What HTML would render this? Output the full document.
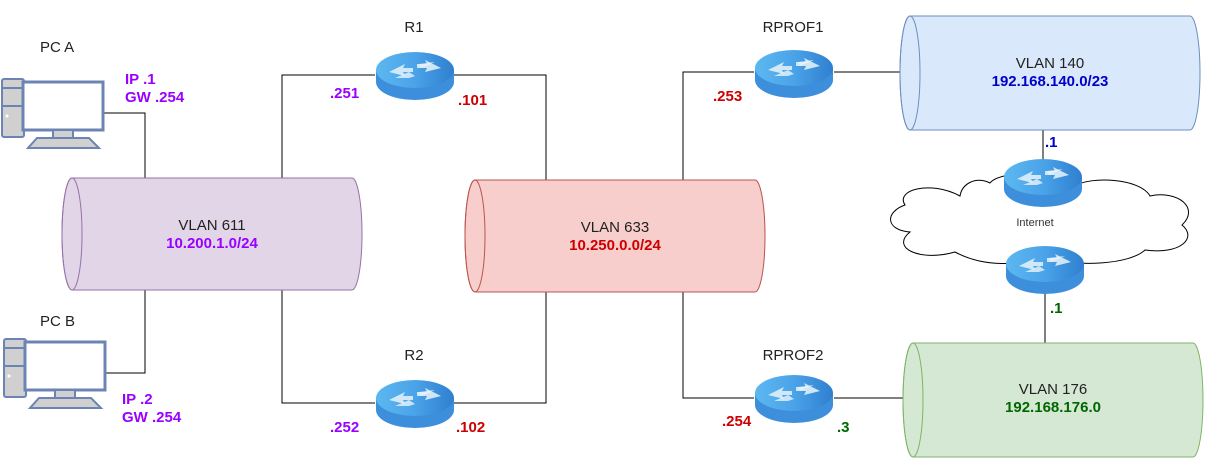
<!DOCTYPE html>
<html><head><meta charset="utf-8"><style>
body{margin:0;background:#fff}
svg{display:block}
text{font-family:"Liberation Sans",Arial,sans-serif}
.l{font-size:15px;fill:#222}
.b{font-size:15px;font-weight:bold}
</style></head><body>
<svg width="1217" height="467" viewBox="0 0 1217 467" xmlns="http://www.w3.org/2000/svg">
<defs>
<linearGradient id="rg" x1="0" x2="1">
<stop offset="0" stop-color="#5cb8f0"/><stop offset="0.5" stop-color="#4aa3e8"/><stop offset="1" stop-color="#2f7fcf"/>
</linearGradient>
<g id="router">
<path d="M1 20 L1 32 A39 18 0 0 0 79 32 L79 20 Z" fill="#3d8fdc"/>
<ellipse cx="40" cy="20" rx="39" ry="18" fill="url(#rg)"/>
<path d="M14 22 L30 14 L28 18 L38 18 L38 22 L28 22 L30 26 Z M66 18 L50 10 L52 14 L42 14 L42 18 L52 18 L50 22 Z" fill="#dfeefa" opacity="0.9"/>
<path d="M20 28 L34 22 L40 26 L34 28 Z M60 12 L46 18 L44 14 Z" fill="#e8f4fd" opacity="0.8"/>
</g>
<g id="pc">
<rect x="1" y="1" width="22" height="58" rx="2" fill="#d0d0d0" stroke="#6c84b4" stroke-width="2"/>
<line x1="1" y1="10" x2="23" y2="10" stroke="#6c84b4" stroke-width="2"/>
<line x1="1" y1="28" x2="23" y2="28" stroke="#6c84b4" stroke-width="2"/>
<circle cx="6" cy="38" r="1.5" fill="#fff"/>
<rect x="22" y="4" width="80" height="48" fill="#fff" stroke="#6c84b4" stroke-width="3"/>
<rect x="52" y="52" width="20" height="8" fill="#d0d0d0" stroke="#6c84b4" stroke-width="2"/>
<path d="M36 60 L88 60 L98 70 L27 70 Z" fill="#d0d0d0" stroke="#6c84b4" stroke-width="2"/>
</g>
</defs>

<g stroke="#000" stroke-width="1" fill="none">
<polyline points="101,113 145,113 145,178"/>
<polyline points="105,373 145,373 145,290"/>
<polyline points="282,178 282,75 375,75"/>
<polyline points="453,75 546,75 546,180"/>
<polyline points="282,290 282,403 375,403"/>
<polyline points="453,403 546,403 546,292"/>
<polyline points="683,180 683,72 754,72"/>
<line x1="834" y1="72" x2="902" y2="72"/>
<polyline points="683,292 683,398 754,398"/>
<line x1="834" y1="398" x2="905" y2="398"/>
<line x1="1043" y1="130" x2="1043" y2="160"/>
<line x1="1045" y1="290" x2="1045" y2="343"/>
</g>

<g>
<path d="M72 178 L352 178 A10 56 0 0 1 352 290 L72 290 A10 56 0 0 1 72 178 Z" fill="#e1d5e7" stroke="#9673a6"/>
<ellipse cx="72" cy="234" rx="10" ry="56" fill="none" stroke="#9673a6"/>
<path d="M475 180 L755 180 A10 56 0 0 1 755 292 L475 292 A10 56 0 0 1 475 180 Z" fill="#f8cecc" stroke="#b85450"/>
<ellipse cx="475" cy="236" rx="10" ry="56" fill="none" stroke="#b85450"/>
<path d="M910 16 L1190 16 A10 57 0 0 1 1190 130 L910 130 A10 57 0 0 1 910 16 Z" fill="#dae8fc" stroke="#6c8ebf"/>
<ellipse cx="910" cy="73" rx="10" ry="57" fill="none" stroke="#6c8ebf"/>
<path d="M913 343 L1193 343 A10 57 0 0 1 1193 457 L913 457 A10 57 0 0 1 913 343 Z" fill="#d5e8d4" stroke="#82b366"/>
<ellipse cx="913" cy="400" rx="10" ry="57" fill="none" stroke="#82b366"/>
</g>

<path d="M960 196 C930 180 895 190 905 205 C885 212 885 230 910 232 C890 248 920 262 955 252 C985 268 1020 265 1040 257 C1080 268 1130 264 1145 250 C1180 255 1198 238 1182 225 C1200 208 1178 190 1150 196 C1140 178 1090 176 1075 186 C1060 170 1000 170 990 183 C975 176 962 184 960 196 Z" fill="#fff" stroke="#000"/>
<text x="1035" y="226" text-anchor="middle" style="font-size:11px;fill:#333">Internet</text>

<use href="#router" x="375" y="50"/>
<use href="#router" x="375" y="378"/>
<use href="#router" x="754" y="48"/>
<use href="#router" x="754" y="373"/>
<use href="#router" x="1003" y="157"/>
<use href="#router" x="1005" y="244"/>

<use href="#pc" x="1" y="78"/>
<use href="#pc" x="3" y="338"/>

<text class="l" x="40" y="52">PC A</text>
<text class="l" x="40" y="326">PC B</text>
<text class="l" x="414" y="32" text-anchor="middle">R1</text>
<text class="l" x="414" y="360" text-anchor="middle">R2</text>
<text class="l" x="793" y="32" text-anchor="middle">RPROF1</text>
<text class="l" x="793" y="360" text-anchor="middle">RPROF2</text>

<text class="l" x="212" y="230" text-anchor="middle">VLAN 611</text>
<text class="b" x="212" y="248" text-anchor="middle" fill="#9900ff">10.200.1.0/24</text>
<text class="l" x="615" y="232" text-anchor="middle">VLAN 633</text>
<text class="b" x="615" y="250" text-anchor="middle" fill="#cc0000">10.250.0.0/24</text>
<text class="l" x="1050" y="68" text-anchor="middle">VLAN 140</text>
<text class="b" x="1050" y="86" text-anchor="middle" fill="#0000cc">192.168.140.0/23</text>
<text class="l" x="1053" y="394" text-anchor="middle">VLAN 176</text>
<text class="b" x="1053" y="412" text-anchor="middle" fill="#006600">192.168.176.0</text>

<g class="b">
<text x="125" y="84" fill="#9900ff">IP .1</text>
<text x="125" y="102" fill="#9900ff">GW .254</text>
<text x="122" y="404" fill="#9900ff">IP .2</text>
<text x="122" y="422" fill="#9900ff">GW .254</text>
<text x="330" y="98" fill="#9900ff">.251</text>
<text x="458" y="105" fill="#cc0000">.101</text>
<text x="330" y="432" fill="#9900ff">.252</text>
<text x="456" y="432" fill="#cc0000">.102</text>
<text x="713" y="101" fill="#cc0000">.253</text>
<text x="722" y="426" fill="#cc0000">.254</text>
<text x="837" y="432" fill="#006600">.3</text>
<text x="1045" y="147" fill="#0000cc">.1</text>
<text x="1050" y="313" fill="#006600">.1</text>
</g>
</svg>
</body></html>
